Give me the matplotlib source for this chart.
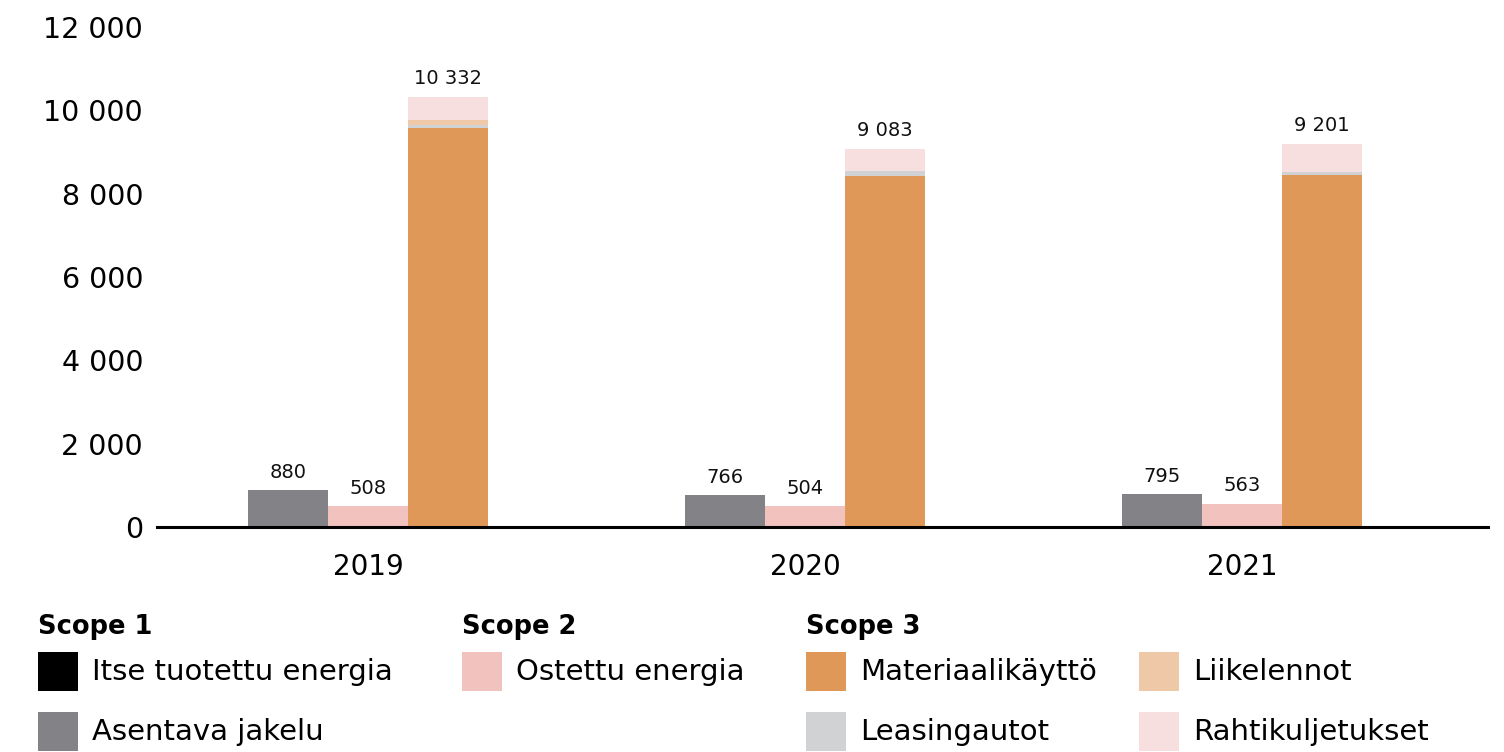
import matplotlib.pyplot as plt
from matplotlib.patches import Rectangle
import numpy as np

years = ['2019', '2020', '2021']
itse_tuotettu = [0, 0, 0]
asentava_jakelu = [880, 766, 795]
ostettu_energia = [508, 504, 563]
materiaali = [9568, 8417, 8441]
leasingautot = [90, 120, 70]
liikelennot = [100, 5, 5]
rahti = [574, 541, 685]

c_black = '#000000'
c_grey = '#838387'
c_pink = '#f2c2bf'
c_orange = '#df9858'
c_liike = '#efc9a7'
c_leasing = '#d1d2d4'
c_rahti = '#f8dfdf'

def fmt(v):
    return f"{int(round(v)):,}".replace(",", " ")

fig = plt.figure(figsize=(15.04, 7.52), dpi=100)
ax = fig.add_axes([157/1504, 1-527/752, (1488-157)/1504, 500/752])

x = np.arange(len(years))
w = 0.183

# scope 1
ax.bar(x - w, itse_tuotettu, w, color=c_black)
ax.bar(x - w, asentava_jakelu, w, bottom=itse_tuotettu, color=c_grey)
# scope 2
ax.bar(x, ostettu_energia, w, color=c_pink)
# scope 3 stacked
bottom = np.zeros(len(years))
for vals, col in [(materiaali, c_orange), (leasingautot, c_leasing),
                  (liikelennot, c_liike), (rahti, c_rahti)]:
    ax.bar(x + w, vals, w, bottom=bottom, color=col)
    bottom += np.array(vals)

s1 = np.array(itse_tuotettu) + np.array(asentava_jakelu)
for i in range(len(years)):
    for xx, v in [(x[i] - w, s1[i]), (x[i], ostettu_energia[i]), (x[i] + w, bottom[i])]:
        ax.annotate(fmt(v), (xx, v), xytext=(0, 6), textcoords='offset points',
                    ha='center', va='bottom', fontsize=14, color='#111111')

ax.set_xlim(-0.483, 2.563)
ax.set_ylim(0, 12000)
ax.set_yticks(range(0, 12001, 2000))
ax.set_yticklabels([fmt(v) for v in range(0, 12001, 2000)], fontsize=20.5)
ax.set_xticks(x)
ax.set_xticklabels(years, fontsize=20)
ax.tick_params(axis='both', length=0)
ax.tick_params(axis='y', pad=10)
ax.tick_params(axis='x', pad=19)
for s in ['top', 'right', 'left']:
    ax.spines[s].set_visible(False)
ax.spines['bottom'].set_linewidth(2.2)
ax.spines['bottom'].set_color('black')

# legend built from figure text and patches
def px(xp, yp):
    return xp / 1504, 1 - yp / 752

headers = [('Scope 1', 38), ('Scope 2', 462), ('Scope 3', 806)]
for t, xp in headers:
    fx, fy = px(xp, 627)
    fig.text(fx, fy, t, fontsize=18.5, fontweight='bold', va='center', ha='left')

items = [
    ('Itse tuotettu energia', c_black, 38, 672),
    ('Asentava jakelu', c_grey, 38, 732),
    ('Ostettu energia', c_pink, 462, 672),
    ('Materiaalikäyttö', c_orange, 806, 672),
    ('Leasingautot', c_leasing, 806, 732),
    ('Liikelennot', c_liike, 1139, 672),
    ('Rahtikuljetukset', c_rahti, 1139, 732),
]
for label, col, xp, yp in items:
    fx, fy = px(xp, yp + 19)
    fig.patches.append(Rectangle((fx, fy), 40/1504, 39/752, transform=fig.transFigure,
                                 facecolor=col, edgecolor='none'))
    tx, ty = px(xp + 54, yp)
    fig.text(tx, ty, label, fontsize=21, va='center', ha='left')

fig.savefig('out.png', dpi=100)
